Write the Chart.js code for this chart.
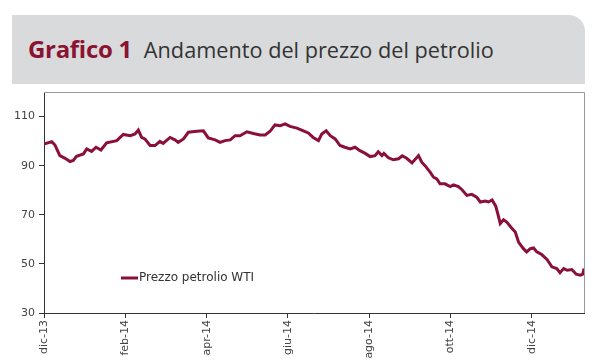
<!DOCTYPE html>
<html>
<head>
<meta charset="utf-8">
<script src="https://cdn.jsdelivr.net/npm/chart.js@4.4.1/dist/chart.umd.min.js"></script>
<style>
  body { margin: 0; background: #fff; }
  #wrap { position: relative; width: 600px; height: 360px; overflow: hidden; }
  #testata {
    position: absolute; left: 12px; top: 15px; width: 573px; height: 69px;
    background: #d9dadb; border-top-right-radius: 16px;
  }
  #titolo {
    position: absolute; left: 28px; top: 32px; white-space: nowrap;
    font-family: "Open Sans", sans-serif; font-size: 21.7px; color: #333;
  }
  #titolo b { color: #8b1332; font-size: 24px; font-weight: 700; margin-right: 12px; letter-spacing: -0.3px; }
  #grafico { position: absolute; left: 0; top: 0; }
</style>
</head>
<body>
<div id="wrap">
  <div id="testata"></div>
  <div id="titolo"><b>Grafico 1</b>Andamento del prezzo del petrolio</div>
  <canvas id="grafico" width="600" height="360"></canvas>
</div>
<script>
// mesi trascorsi da dic-13 (posizione sull'asse x)
const mesi = [
  0.00, 0.19, 0.27, 0.39, 0.52, 0.64, 0.72, 0.80, 0.97, 1.05,
  1.17, 1.28, 1.40, 1.54, 1.79, 1.95, 2.12, 2.24, 2.32, 2.40,
  2.48, 2.61, 2.73, 2.85, 2.93, 3.10, 3.22, 3.30, 3.43, 3.55,
  3.76, 3.92, 4.04, 4.21, 4.33, 4.45, 4.58, 4.70, 4.82, 4.99,
  5.15, 5.31, 5.44, 5.56, 5.68, 5.81, 5.93, 6.05, 6.22, 6.38,
  6.50, 6.62, 6.75, 6.83, 6.94, 7.04, 7.16, 7.28, 7.40, 7.53,
  7.65, 7.77, 7.90, 8.02, 8.14, 8.22, 8.31, 8.36, 8.47, 8.59,
  8.72, 8.81, 8.92, 9.05, 9.21, 9.29, 9.37, 9.50, 9.58, 9.66,
  9.74, 9.86, 9.99, 10.07, 10.19, 10.28, 10.40, 10.52, 10.64, 10.73,
  10.85, 10.93, 11.02, 11.11, 11.18, 11.22, 11.30, 11.38, 11.51, 11.59,
  11.67, 11.79, 11.87, 11.96, 12.04, 12.12, 12.24, 12.37, 12.49, 12.61,
  12.69, 12.78, 12.87, 12.98, 13.09, 13.19, 13.25, 13.28
];

// prezzo WTI (dollari al barile)
const prezzoWTI = [
  98.8, 99.8, 98.4, 94.1, 93.0, 91.7, 92.1, 93.8, 94.8, 96.8,
  95.8, 97.5, 96.4, 99.3, 100.2, 102.7, 102.2, 102.9, 104.5, 101.5,
  100.9, 98.2, 98.2, 99.9, 99.1, 101.5, 100.5, 99.5, 100.9, 103.6,
  104.0, 104.2, 101.3, 100.5, 99.5, 100.2, 100.5, 102.2, 102.2, 103.8,
  103.1, 102.5, 102.5, 104.0, 106.6, 106.3, 107.0, 106.0, 105.3, 104.2,
  103.3, 101.5, 100.2, 102.9, 104.2, 102.2, 100.9, 98.2, 97.5, 96.8,
  97.5, 96.1, 95.0, 93.7, 94.1, 95.7, 94.1, 95.0, 93.2, 92.4,
  92.8, 94.0, 93.0, 91.1, 94.1, 91.4, 90.0, 87.3, 85.3, 84.6,
  82.6, 82.6, 81.5, 82.2, 81.5, 80.2, 77.9, 78.3, 77.2, 75.2,
  75.6, 75.2, 76.0, 73.5, 69.1, 66.4, 68.0, 67.0, 64.4, 63.0,
  58.9, 56.2, 54.9, 56.2, 56.5, 54.9, 53.8, 51.8, 48.8, 48.1,
  46.4, 48.1, 47.4, 47.7, 45.8, 45.4, 45.8, 48.1
];

const etichetteX = ['dic-13', 'feb-14', 'apr-14', 'giu-14', 'ago-14', 'ott-14', 'dic-14'];
const posizioniX = [0, 2, 4, 6, 8, 10, 12];
const valoriY = [30, 50, 70, 90, 110];

const colore = '#8b1038';

// legenda dentro l'area del grafico + bordo superiore e destro
const cornice = {
  id: 'cornice',
  afterDraw(chart) {
    const ctx = chart.ctx;
    const a = chart.chartArea;
    ctx.save();
    ctx.strokeStyle = '#9a9a9a';
    ctx.lineWidth = 1;
    ctx.beginPath();
    ctx.moveTo(a.left, a.top + 0.5);
    ctx.lineTo(a.right + 0.5, a.top + 0.5);
    ctx.lineTo(a.right + 0.5, a.bottom);
    ctx.stroke();

    const ds = chart.data.datasets[0];
    ctx.strokeStyle = ds.borderColor;
    ctx.lineWidth = 3;
    ctx.beginPath();
    ctx.moveTo(121, 278);
    ctx.lineTo(138, 278);
    ctx.stroke();
    ctx.fillStyle = '#333';
    ctx.font = '12px "DejaVu Sans"';
    ctx.textBaseline = 'middle';
    ctx.fillText(ds.label, 139, 278);
    ctx.restore();
  }
};

new Chart(document.getElementById('grafico'), {
  type: 'line',
  data: {
    datasets: [{
      label: 'Prezzo petrolio WTI',
      data: mesi.map((m, i) => ({ x: m, y: prezzoWTI[i] })),
      borderColor: colore,
      borderWidth: 3,
      pointRadius: 0,
      tension: 0,
      fill: false
    }]
  },
  options: {
    responsive: false,
    animation: false,
    layout: { padding: { top: 92, right: 16, left: 0, bottom: 0 } },
    plugins: { legend: { display: false }, tooltip: { enabled: false } },
    scales: {
      x: {
        type: 'linear',
        min: 0,
        max: 13.28,
        afterFit(scale) { scale.height = 47; },
        afterBuildTicks(scale) { scale.ticks = posizioniX.map(v => ({ value: v })); },
        grid: { drawOnChartArea: false, tickLength: 5, color: '#333' },
        border: { color: '#333', width: 1 },
        ticks: {
          autoSkip: false,
          minRotation: 90,
          maxRotation: 90,
          padding: 2,
          color: '#444',
          font: { family: 'DejaVu Sans', size: 11 },
          callback: v => etichetteX[posizioniX.indexOf(v)]
        }
      },
      y: {
        min: 30,
        max: 120,
        afterFit(scale) { scale.width = 44; },
        afterBuildTicks(scale) { scale.ticks = valoriY.map(v => ({ value: v })); },
        grid: { drawOnChartArea: false, tickLength: 5, color: '#333' },
        border: { color: '#333', width: 1 },
        ticks: {
          padding: 4,
          color: '#444',
          font: { family: 'DejaVu Sans', size: 11 }
        }
      }
    }
  },
  plugins: [cornice]
});
</script>
</body>
</html>
